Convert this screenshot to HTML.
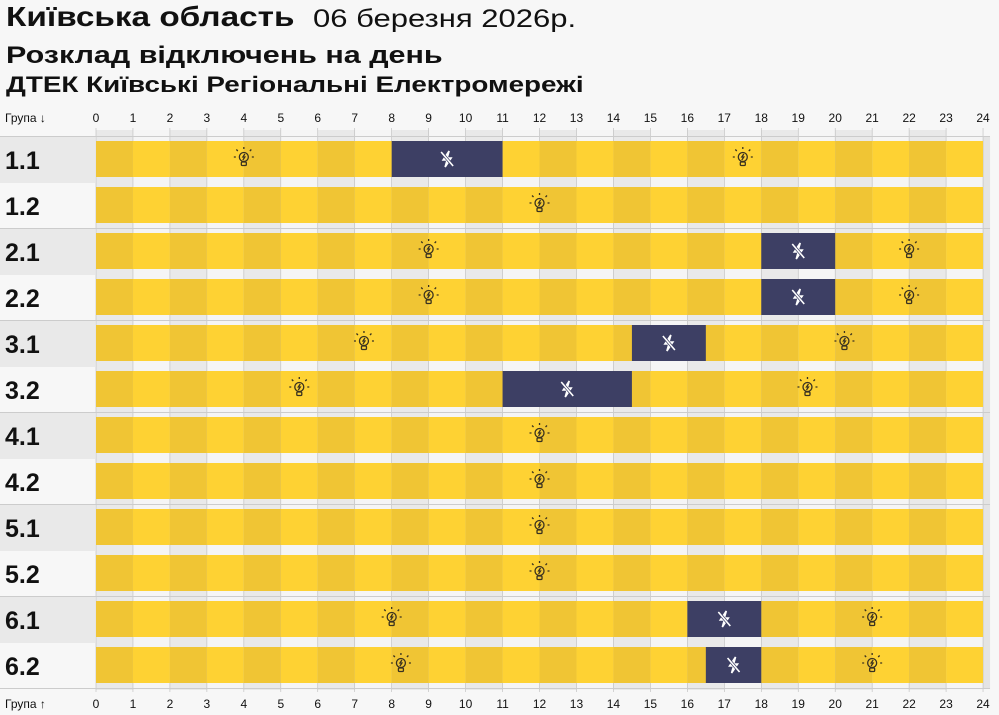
<!DOCTYPE html>
<html><head><meta charset="utf-8">
<style>
body{margin:0;background:#f7f7f7;width:999px;height:715px;overflow:hidden;font-family:"Liberation Sans","DejaVu Sans",sans-serif;}
.t{position:absolute;white-space:nowrap;color:#111;transform-origin:0 0;transform:scaleX(1.24)}
</style></head><body>
<div class="t" style="left:6px;top:1px;font-size:28px;font-weight:bold;transform:scaleX(1.19)">Київська область</div>
<div class="t" style="left:313px;top:5px;font-size:25px">06 березня 2026р.</div>
<div class="t" style="left:6px;top:42px;font-size:24px;font-weight:bold;transform:scaleX(1.27)">Розклад відключень на день</div>
<div class="t" style="left:6px;top:72px;font-size:22px;font-weight:bold;transform:scaleX(1.265)">ДТЕК Київські Регіональні Електромережі</div>
<svg id="c" width="999" height="715" style="position:absolute;left:0;top:0"></svg>
<script>
const groups=["1.1","1.2","2.1","2.2","3.1","3.2","4.1","4.2","5.1","5.2","6.1","6.2"];
const outStart=[8,null,18,18,14.5,11,null,null,null,null,16,16.5];
const outEnd=[11,null,20,20,16.5,14.5,null,null,null,null,18,18];
const hours=[0,1,2,3,4,5,6,7,8,9,10,11,12,13,14,15,16,17,18,19,20,21,22,23,24];
const NS="http://www.w3.org/2000/svg";
const svg=document.getElementById('c');
const x=h=>96+h*36.96;
const rowTop=i=>137+i*46;
function el(t,a,p){const e=document.createElementNS(NS,t);for(const k in a)e.setAttribute(k,a[k]);(p||svg).appendChild(e);return e;}
for(let h=0;h<24;h++){const r=el('rect',{x:x(h),y:130,width:36.96,height:560,fill:h%2?'#f5f5f5':'#e9e9e9'});

}
el('rect',{x:x(24),y:137,width:7,height:552,fill:'#e4e4e4'});
hours.forEach(h=>{el('line',{x1:x(h),y1:128,x2:x(h),y2:692,stroke:'#bbb','stroke-width':0.6});});
[0,2,4,6,8,10,12].forEach(i=>el('line',{x1:0,y1:rowTop(i)-0.5,x2:990,y2:rowTop(i)-0.5,stroke:'#ccc','stroke-width':1}));
groups.forEach((g,i)=>{
  const y=rowTop(i);
  if(i%2===0){el('rect',{x:0,y:y,width:95,height:46,fill:'#e9e9e9'});}
  const lb=el('text',{x:5,y:y+32,'font-size':25,'font-weight':'bold',fill:'#111','font-family':'Liberation Sans'});
  lb.textContent=g;
  
  
  for(let h=0;h<24;h++){const r=el('rect',{x:x(h),y:y+4,width:36.96,height:36,fill:h%2?'#fed233':'#f0c534'});
  
  }
  const segs=[];
  if(outStart[i]!==null){
    const o=el('rect',{x:x(outStart[i]),y:y+4,width:x(outEnd[i])-x(outStart[i]),height:36,fill:'#3d3f64'});
    
    
    segs.push([0,outStart[i]],[outEnd[i],24]);
    const m=(outStart[i]+outEnd[i])/2, cx=x(m), cy=y+22;
    const ic=el('g',{stroke:'#fff','stroke-width':1.6,fill:'#fff'});
    
    
    el('path',{d:`M${cx+2} ${cy-8} L${cx-4} ${cy+1} L${cx} ${cy+1} L${cx-2} ${cy+8} L${cx+4} ${cy-1} L${cx} ${cy-1} Z`},ic);
    el('line',{x1:cx-6,y1:cy-7,x2:cx+6,y2:cy+7,stroke:'#3d3f64','stroke-width':3},ic);
    el('line',{x1:cx-6,y1:cy-7,x2:cx+6,y2:cy+7},ic);
  } else segs.push([0,24]);
  segs.forEach(s=>{
    const cx=x((s[0]+s[1])/2), cy=y+21;
    const ic=el('g',{stroke:'#3a3220','stroke-width':1.3,fill:'none'});
    
    
    el('circle',{cx:cx,cy:cy-1,r:4.5},ic);
    el('rect',{x:cx-2.5,y:cy+4,width:5,height:3.5,rx:1},ic);
    el('path',{d:`M${cx-8} ${cy-1}h-2M${cx+8} ${cy-1}h2M${cx-6} ${cy-7}l-1.5 -1.5M${cx+6} ${cy-7}l1.5 -1.5M${cx} ${cy-9}v-2`},ic);
    el('path',{d:`M${cx+1} ${cy-4}l-2 3h2l-2 3`},ic);
  });
});
[[122,'Група ↓'],[708,'Група ↑']].forEach(([yy,t])=>{
  const a=el('text',{x:5,y:yy,'font-size':12,fill:'#111','font-family':'Liberation Sans'});a.textContent=t;
  
  
  hours.forEach(h=>{const tk=el('text',{x:x(h),y:yy,'font-size':12,fill:'#111','text-anchor':'middle','font-family':'Liberation Sans'});tk.textContent=h;
  
  });
});
</script>
</body></html>
